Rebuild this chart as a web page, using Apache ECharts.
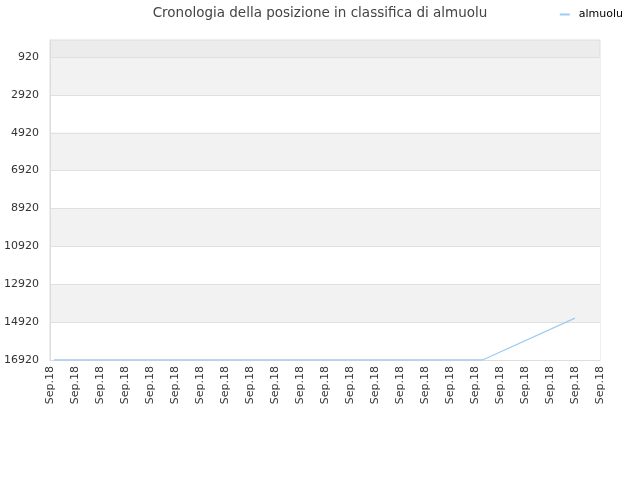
<!DOCTYPE html>
<html>
<head>
<meta charset="utf-8">
<script src="https://cdn.jsdelivr.net/npm/echarts@6/dist/echarts.min.js"></script>
<style>
  html, body { margin: 0; padding: 0; background: #fff; }
  #chart { width: 640px; height: 480px; }
</style>
</head>
<body>
<div id="chart"></div>
<script>
// x positions of the ranking samples (one unit = one date slot)
const xValues = [0.16, 17.3, 21]
const ranks = [16920, 16920, 14710]
// date slots on the x axis
const dateLabels = ['Sep.18', 'Sep.18', 'Sep.18', 'Sep.18', 'Sep.18', 'Sep.18', 'Sep.18', 'Sep.18',
    'Sep.18', 'Sep.18', 'Sep.18', 'Sep.18', 'Sep.18', 'Sep.18', 'Sep.18', 'Sep.18',
    'Sep.18', 'Sep.18', 'Sep.18', 'Sep.18', 'Sep.18', 'Sep.18', 'Sep.18']
const rankTicks = [920, 2920, 4920, 6920, 8920, 10920, 12920, 14920, 16920]

var myChart = echarts.init(document.getElementById('chart'))
var font = 'DejaVu Sans'
var option = {
    animation: false,
    title: {
        text: 'Cronologia della posizione in classifica di almuolu',
        left: 'center',
        top: 1,
        textStyle: { fontFamily: font, fontSize: 13.5, fontWeight: 'normal', color: '#444' }
    },
    legend: {
        right: 12,
        top: 4,
        itemWidth: 10,
        itemHeight: 2,
        icon: 'rect',
        textStyle: { fontFamily: font, fontSize: 11, color: '#000', padding: [0, 0, 0, 4] },
        data: ['almuolu']
    },
    grid: {
        left: 50, right: 40, top: 40, bottom: 120,
        outerBoundsMode: 'none',
        show: true,
        backgroundColor: '#ececec',
        borderColor: '#dddddd',
        borderWidth: 1
    },
    xAxis: {
        type: 'value',
        min: 0,
        max: dateLabels.length - 1,
        interval: 1,
        axisLine: { lineStyle: { color: '#dddddd' } },
        axisTick: { show: false },
        splitLine: { show: false },
        axisLabel: {
            rotate: 90,
            fontFamily: font,
            fontSize: 11,
            color: '#333',
            margin: 6,
            formatter: (v) => dateLabels[Math.round(v)]
        }
    },
    yAxis: {
        type: 'value',
        inverse: true,
        min: 22,
        max: 16920,
        axisLine: { show: true, lineStyle: { color: '#dddddd' } },
        axisTick: { show: false, customValues: rankTicks },
        axisLabel: {
            customValues: rankTicks,
            fontFamily: font,
            fontSize: 11,
            color: '#333',
            margin: 11,
            formatter: (v) => String(v)
        },
        splitLine: { show: true, customValues: rankTicks, lineStyle: { color: '#e0e0e0' } },
        splitArea: { show: true, customValues: rankTicks, areaStyle: { color: ['#f2f2f2', '#ffffff'] } }
    },
    series: [
        {
            name: 'almuolu',
            type: 'line',
            symbol: 'none',
            lineStyle: { color: '#9ecaf5', width: 1.3 },
            itemStyle: { color: '#9ecaf5' },
            data: xValues.map((x, i) => [x, ranks[i]])
        }
    ]
};
myChart.setOption(option);
</script>
</body>
</html>
